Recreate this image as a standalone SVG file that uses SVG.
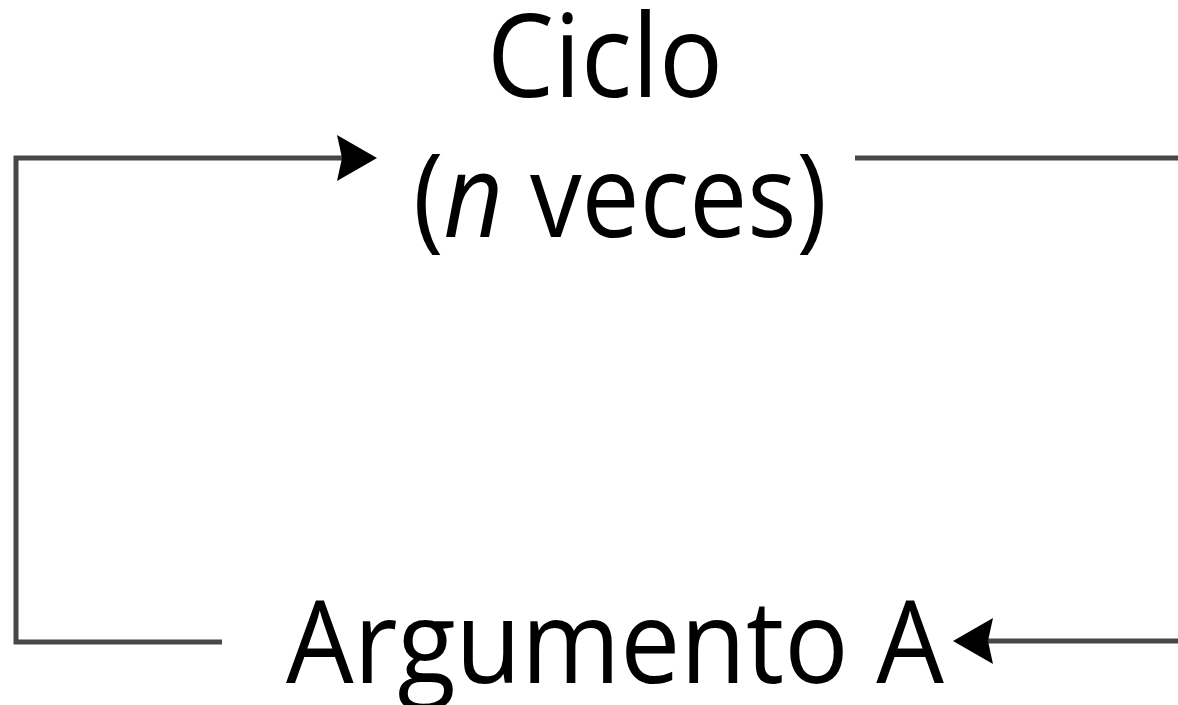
<svg xmlns="http://www.w3.org/2000/svg" width="1178" height="705" viewBox="0 0 1178 705">
  <style>
    .lbl { font-family: "Open Sans", "Noto Sans", "Liberation Sans", sans-serif; font-size: 116px; fill: #000; text-anchor: middle; }
    .conn { fill: none; stroke: #474747; stroke-width: 5; stroke-linecap: butt; stroke-linejoin: miter; }
  </style>
  <defs>
    <marker id="arrow" markerUnits="userSpaceOnUse" markerWidth="60" markerHeight="60" viewBox="-10 -30 50 60" refX="0" refY="0" orient="auto" overflow="visible">
      <path d="M35,0 L-5,-23 L0,0 L-5,23 Z" fill="#000"/>
    </marker>
  </defs>
  <rect width="1178" height="705" fill="#fff"/>
  <g id="connectors">
    <path class="conn" d="M222,642 H16 V158 H342" marker-end="url(#arrow)"/>
    <path class="conn" d="M855,158 H1178"/>
    <path class="conn" d="M1178,641 H988" marker-end="url(#arrow)"/>
  </g>
  <g id="node-ciclo">
    <text class="lbl" x="605" y="97" textLength="236" lengthAdjust="spacingAndGlyphs">Ciclo</text>
    <text class="lbl" x="620" y="237" textLength="414" lengthAdjust="spacingAndGlyphs">(<tspan font-style="italic">n</tspan> veces)</text>
  </g>
  <g id="node-argumento">
    <text class="lbl" x="615" y="683" textLength="658" lengthAdjust="spacingAndGlyphs">Argumento A</text>
  </g>
</svg>
